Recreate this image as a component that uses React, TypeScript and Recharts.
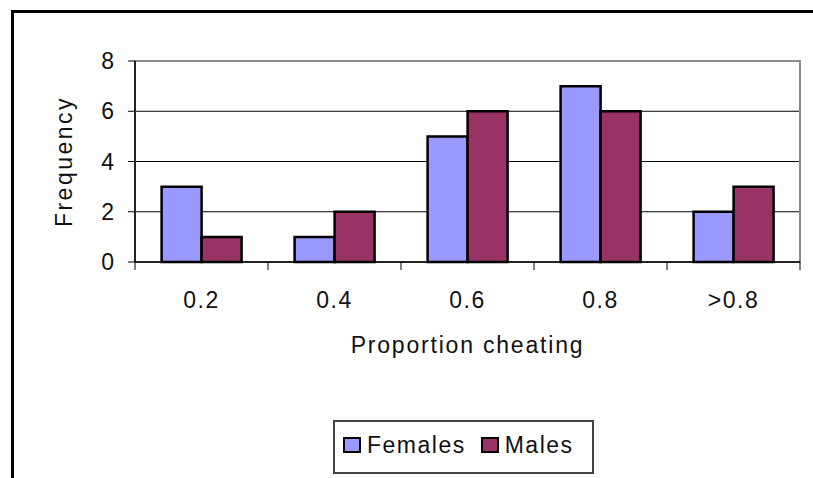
import { Bar, BarChart, CartesianGrid, ReferenceArea, XAxis, YAxis } from "recharts"

const categories = ["0.2", "0.4", "0.6", "0.8", ">0.8"]
const females = [3, 1, 5, 7, 2]
const males = [1, 2, 6, 6, 3]
const yTicks = [0, 2, 4, 6, 8]

const series = [
  { key: "Females", values: females, color: "#9999FF" },
  { key: "Males", values: males, color: "#993366" },
]

const data = categories.map((bin, i) => {
  const row: Record<string, string | number> = { bin }
  series.forEach((s) => {
    row[s.key] = s.values[i]
  })
  return row
})

const FONT = "'Liberation Sans', Arial, sans-serif"
const TEXT = "#111"

// plot box: x 135..800, y 61..262
const PLOT_LEFT = 135
const PLOT_RIGHT = 800
const BAND = (PLOT_RIGHT - PLOT_LEFT) / categories.length

function XTick(props: any) {
  const { x, y, payload, index } = props
  const left = x - BAND / 2
  const right = x + BAND / 2
  return (
    <g>
      <line x1={left} x2={left} y1={y} y2={y + 8} stroke="#000" />
      {index === categories.length - 1 && <line x1={right} x2={right} y1={y} y2={y + 8} stroke="#000" />}
      <text x={x} y={y + 46} textAnchor="middle" fontSize={23} fontFamily={FONT} fill={TEXT} letterSpacing={1.5}>
        {payload.value}
      </text>
    </g>
  )
}

function YTitle(props: any) {
  const { viewBox } = props
  const cx = viewBox.x + 72
  const cy = viewBox.y + viewBox.height / 2
  return (
    <text
      x={cx}
      y={cy}
      transform={`rotate(-90 ${cx} ${cy})`}
      textAnchor="middle"
      fontSize={23}
      fontFamily={FONT}
      fill={TEXT}
      letterSpacing={2.5}
    >
      Frequency
    </text>
  )
}

export default function App() {
  return (
    <div
      style={{
        position: "absolute",
        left: 0,
        top: 0,
        width: 813,
        height: 478,
        overflow: "hidden",
        background: "#fff",
        fontFamily: FONT,
      }}
    >
      <div
        style={{
          position: "absolute",
          left: 11,
          top: 10,
          width: 900,
          height: 600,
          border: "3px solid #000",
        }}
      />
      <div style={{ position: "absolute", left: 0, top: 0 }}>
        <BarChart
          width={813}
          height={478}
          data={data}
          margin={{ top: 61, right: 13, left: 0, bottom: 0 }}
          barCategoryGap="20%"
          barGap={0}
        >
          <ReferenceArea y1={0} y2={8} fill="none" stroke="#8a8a8a" strokeWidth={2} ifOverflow="visible" />
          <CartesianGrid vertical={false} horizontalValues={yTicks.filter((t) => t > 0 && t < 8)} stroke="#000" />
          <XAxis
            dataKey="bin"
            height={216}
            tickSize={0}
            tickMargin={0}
            tickLine={false}
            axisLine={{ stroke: "#000", strokeWidth: 1.5 }}
            tick={<XTick />}
            interval={0}
            label={{
              value: "Proportion cheating",
              position: "insideTop",
              offset: 75,
              fontSize: 23,
              fontFamily: FONT,
              fill: TEXT,
              letterSpacing: 1.8,
            }}
          />
          <YAxis
            width={135}
            domain={[0, 8]}
            ticks={yTicks}
            tickSize={7}
            tickMargin={14}
            tickLine={{ stroke: "#000" }}
            axisLine={{ stroke: "#000", strokeWidth: 1.5 }}
            tick={{ fontSize: 23, fontFamily: FONT, fill: TEXT }}
            label={<YTitle />}
          />
          {series.map((s) => (
            <Bar
              key={s.key}
              dataKey={s.key}
              fill={s.color}
              stroke="#000"
              strokeWidth={2.5}
              isAnimationActive={false}
            />
          ))}
        </BarChart>
      </div>
      <div
        style={{
          position: "absolute",
          left: 333,
          top: 420,
          width: 261,
          height: 54,
          border: "2px solid #444",
          display: "flex",
          alignItems: "center",
          paddingLeft: 8,
          paddingBottom: 4,
          boxSizing: "border-box",
        }}
      >
        {series.map((s) => (
          <div key={s.key} style={{ display: "flex", alignItems: "center", marginRight: 15 }}>
            <span
              style={{
                display: "inline-block",
                width: 14,
                height: 12,
                background: s.color,
                border: "2px solid #000",
                marginRight: 6,
              }}
            />
            <span style={{ fontSize: 23, color: TEXT, letterSpacing: 1.5 }}>{s.key}</span>
          </div>
        ))}
      </div>
    </div>
  )
}
